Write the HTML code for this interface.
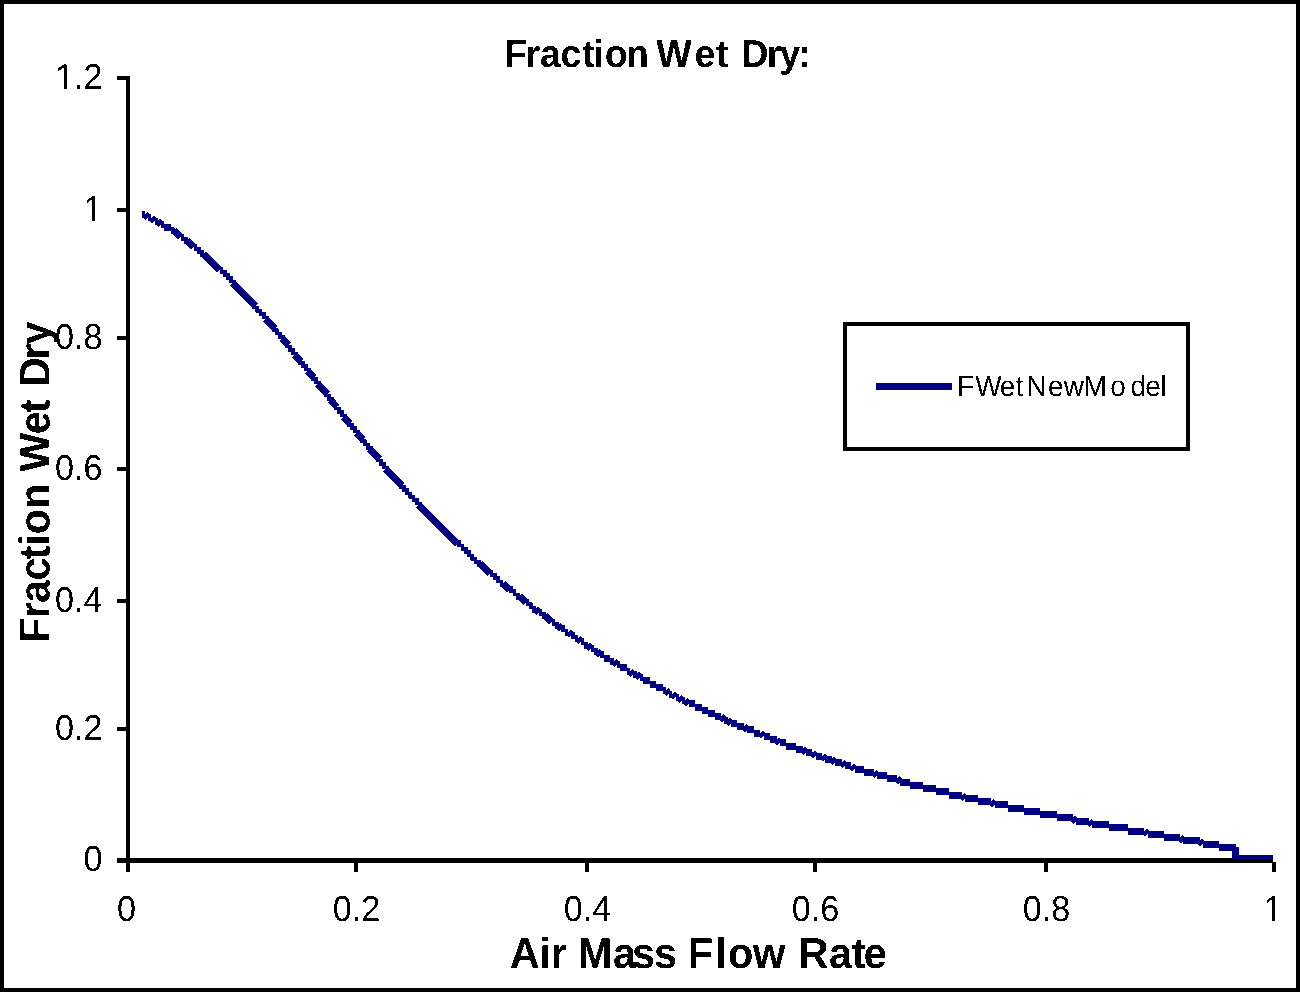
<!DOCTYPE html>
<html lang="en">
<head>
<meta charset="utf-8">
<title>Fraction Wet Dry</title>
<style>
html,body{margin:0;padding:0;background:#fff;}
body{width:1300px;height:992px;overflow:hidden;}
svg{display:block;}
text{font-family:"Liberation Sans",Arial,Helvetica,sans-serif;fill:#000;text-rendering:geometricPrecision;}
.b{font-weight:bold;}
.r{font-weight:normal;}
</style>
</head>
<body>
<svg width="1300" height="992" viewBox="0 0 1300 992">
<rect x="0" y="0" width="1300" height="992" fill="#fff"/>
<g fill="#000" shape-rendering="crispEdges">
<rect x="126" y="76" width="4" height="796"/>
<rect x="117" y="858" width="1156" height="5"/>
<rect x="117" y="76" width="9" height="4"/>
<rect x="117" y="208" width="9" height="4"/>
<rect x="117" y="336" width="9" height="4"/>
<rect x="117" y="467" width="9" height="4"/>
<rect x="117" y="599" width="9" height="4"/>
<rect x="117" y="727" width="9" height="4"/>
<rect x="354" y="863" width="4" height="9"/>
<rect x="585" y="863" width="4" height="9"/>
<rect x="813" y="863" width="4" height="9"/>
<rect x="1044" y="863" width="4" height="9"/>
<rect x="1272" y="862" width="4" height="10"/>
</g>
<clipPath id="pc"><rect x="130" y="60" width="1143" height="799"/></clipPath>
<path clip-path="url(#pc)" d="M141.5 214.5L144.9 214.5M144.9 214.5L148.2 217.8M148.2 217.8L151.4 217.8M151.4 217.8L154.7 221.0M154.7 221.0L157.9 221.0M157.9 221.0L161.2 224.3M161.2 224.3L164.4 224.3M164.4 224.3L164.4 227.6M164.4 227.6L171.0 227.6M171.0 227.6L171.0 230.8M171.0 230.8L174.2 230.8M174.2 230.8L180.7 237.3M180.7 237.3L184.0 237.3M184.0 237.3L184.0 240.6M184.0 240.6L187.2 240.6M187.2 240.6L193.7 247.1M193.7 247.1L197.0 247.1M197.0 247.1L197.0 250.4M197.0 250.4L200.3 250.4M200.3 250.4L200.3 253.6M200.3 253.6L203.5 253.6M203.5 253.6L219.8 270.0M219.8 270.0L223.0 270.0M223.0 270.0L223.0 273.2M223.0 273.2L226.3 273.2M226.3 273.2L226.3 276.5M226.3 276.5L229.6 276.5M229.6 276.5L229.6 279.7M229.6 279.7L232.8 279.7M232.8 279.7L232.8 283.0M232.8 283.0L255.6 305.8M255.6 305.8L255.6 309.1M255.6 309.1L258.9 309.1M258.9 309.1L258.9 312.4M258.9 312.4L262.1 312.4M262.1 312.4L262.1 315.6M262.1 315.6L265.4 315.6M265.4 315.6L265.4 318.9M265.4 318.9L275.1 328.7M275.1 328.7L275.1 331.9M275.1 331.9L278.4 331.9M278.4 331.9L278.4 335.2M278.4 335.2L281.6 335.2M281.6 335.2L281.6 338.5M281.6 338.5L288.2 345.0M288.2 345.0L288.2 348.2M288.2 348.2L291.4 348.2M291.4 348.2L291.4 351.5M291.4 351.5L294.7 351.5M294.7 351.5L294.7 354.8M294.7 354.8L301.2 361.3M301.2 361.3L301.2 364.5M301.2 364.5L304.4 364.5M304.4 364.5L304.4 367.8M304.4 367.8L307.7 367.8M307.7 367.8L307.7 371.1M307.7 371.1L314.2 377.6M314.2 377.6L314.2 380.9M314.2 380.9L317.5 380.9M317.5 380.9L317.5 384.1M317.5 384.1L327.2 393.9M327.2 393.9L327.2 397.2M327.2 397.2L330.5 397.2M330.5 397.2L330.5 400.4M330.5 400.4L337.0 407.0M337.0 407.0L337.0 410.2M337.0 410.2L340.2 410.2M340.2 410.2L340.2 413.5M340.2 413.5L343.5 413.5M343.5 413.5L343.5 416.7M343.5 416.7L350.0 423.3M350.0 423.3L350.0 426.5M350.0 426.5L353.3 426.5M353.3 426.5L353.3 429.8M353.3 429.8L356.5 429.8M356.5 429.8L356.5 433.0M356.5 433.0L363.0 439.6M363.0 439.6L363.0 442.8M363.0 442.8L366.3 442.8M366.3 442.8L366.3 446.1M366.3 446.1L369.5 446.1M369.5 446.1L369.5 449.4M369.5 449.4L379.3 459.1M379.3 459.1L379.3 462.4M379.3 462.4L382.6 462.4M382.6 462.4L382.6 465.7M382.6 465.7L385.8 465.7M385.8 465.7L385.8 468.9M385.8 468.9L402.1 485.2M402.1 485.2L402.1 488.5M402.1 488.5L405.4 488.5M405.4 488.5L405.4 491.8M405.4 491.8L408.6 491.8M408.6 491.8L408.6 495.0M408.6 495.0L411.9 495.0M411.9 495.0L411.9 498.3M411.9 498.3L415.1 498.3M415.1 498.3L415.1 501.5M415.1 501.5L418.4 501.5M418.4 501.5L418.4 504.8M418.4 504.8L457.4 543.9M457.4 543.9L460.7 543.9M460.7 543.9L460.7 547.2M460.7 547.2L464.0 547.2M464.0 547.2L464.0 550.5M464.0 550.5L467.2 550.5M467.2 550.5L467.2 553.7M467.2 553.7L470.5 553.7M470.5 553.7L470.5 557.0M470.5 557.0L473.7 557.0M473.7 557.0L473.7 560.3M473.7 560.3L477.0 560.3M477.0 560.3L477.0 563.5M477.0 563.5L480.2 563.5M480.2 563.5L490.0 573.3M490.0 573.3L493.3 573.3M493.3 573.3L493.3 576.6M493.3 576.6L496.5 576.6M496.5 576.6L496.5 579.8M496.5 579.8L499.8 579.8M499.8 579.8L499.8 583.1M499.8 583.1L503.0 583.1M503.0 583.1L509.5 589.6M509.5 589.6L512.8 589.6M512.8 589.6L512.8 592.9M512.8 592.9L516.0 592.9M516.0 592.9L516.0 596.1M516.0 596.1L519.3 596.1M519.3 596.1L525.8 602.7M525.8 602.7L529.1 602.7M529.1 602.7L529.1 605.9M529.1 605.9L532.3 605.9M532.3 605.9L532.3 609.2M532.3 609.2L535.6 609.2M535.6 609.2L538.8 612.4M538.8 612.4L542.1 612.4M542.1 612.4L542.1 615.7M542.1 615.7L545.3 615.7M545.3 615.7L551.8 622.2M551.8 622.2L555.1 622.2M555.1 622.2L555.1 625.5M555.1 625.5L558.4 625.5M558.4 625.5L561.6 628.8M561.6 628.8L564.9 628.8M564.9 628.8L564.9 632.0M564.9 632.0L568.1 632.0M568.1 632.0L571.4 635.3M571.4 635.3L574.6 635.3M574.6 635.3L574.6 638.5M574.6 638.5L577.9 638.5M577.9 638.5L581.1 641.8M581.1 641.8L584.4 641.8M584.4 641.8L584.4 645.1M584.4 645.1L587.7 645.1M587.7 645.1L590.9 648.3M590.9 648.3L594.2 648.3M594.2 648.3L594.2 651.6M594.2 651.6L597.4 651.6M597.4 651.6L600.7 654.8M600.7 654.8L603.9 654.8M603.9 654.8L603.9 658.1M603.9 658.1L610.4 658.1M610.4 658.1L610.4 661.4M610.4 661.4L613.7 661.4M613.7 661.4L617.0 664.6M617.0 664.6L620.2 664.6M620.2 664.6L620.2 667.9M620.2 667.9L626.7 667.9M626.7 667.9L626.7 671.2M626.7 671.2L630.0 671.2M630.0 671.2L633.2 674.4M633.2 674.4L636.5 674.4M636.5 674.4L639.7 677.7M639.7 677.7L643.0 677.7M643.0 677.7L643.0 680.9M643.0 680.9L649.5 680.9M649.5 680.9L649.5 684.2M649.5 684.2L656.0 684.2M656.0 684.2L656.0 687.5M656.0 687.5L662.5 687.5M662.5 687.5L662.5 690.7M662.5 690.7L665.8 690.7M665.8 690.7L669.0 694.0M669.0 694.0L672.3 694.0M672.3 694.0L675.6 697.3M675.6 697.3L678.8 697.3M678.8 697.3L682.1 700.5M682.1 700.5L685.3 700.5M685.3 700.5L688.6 703.8M688.6 703.8L695.1 703.8M695.1 703.8L695.1 707.0M695.1 707.0L701.6 707.0M701.6 707.0L701.6 710.3M701.6 710.3L708.1 710.3M708.1 710.3L708.1 713.6M708.1 713.6L714.6 713.6M714.6 713.6L714.6 716.8M714.6 716.8L721.1 716.8M721.1 716.8L724.4 720.1M724.4 720.1L727.6 720.1M727.6 720.1L730.9 723.3M730.9 723.3L737.4 723.3M737.4 723.3L737.4 726.6M737.4 726.6L743.9 726.6M743.9 726.6L747.2 729.9M747.2 729.9L753.7 729.9M753.7 729.9L753.7 733.1M753.7 733.1L760.2 733.1M760.2 733.1L763.5 736.4M763.5 736.4L770.0 736.4M770.0 736.4L770.0 739.7M770.0 739.7L776.5 739.7M776.5 739.7L779.7 742.9M779.7 742.9L786.2 742.9M786.2 742.9L786.2 746.2M786.2 746.2L796.0 746.2M796.0 746.2L796.0 749.4M796.0 749.4L802.5 749.4M802.5 749.4L805.8 752.7M805.8 752.7L812.3 752.7M812.3 752.7L815.5 756.0M815.5 756.0L822.1 756.0M822.1 756.0L825.3 759.2M825.3 759.2L831.8 759.2M831.8 759.2L835.1 762.5M835.1 762.5L841.6 762.5M841.6 762.5L844.8 765.7M844.8 765.7L851.4 765.7M851.4 765.7L854.6 769.0M854.6 769.0L864.4 769.0M864.4 769.0L864.4 772.3M864.4 772.3L874.1 772.3M874.1 772.3L877.4 775.5M877.4 775.5L887.2 775.5M887.2 775.5L887.2 778.8M887.2 778.8L896.9 778.8M896.9 778.8L900.2 782.1M900.2 782.1L910.0 782.1M910.0 782.1L910.0 785.3M910.0 785.3L923.0 785.3M923.0 785.3L923.0 788.6M923.0 788.6L936.0 788.6M936.0 788.6L936.0 791.8M936.0 791.8L949.0 791.8M949.0 791.8L949.0 795.1M949.0 795.1L962.0 795.1M962.0 795.1L965.3 798.4M965.3 798.4L978.3 798.4M978.3 798.4L978.3 801.6M978.3 801.6L991.3 801.6M991.3 801.6L994.6 804.9M994.6 804.9L1007.6 804.9M1007.6 804.9L1007.6 808.2M1007.6 808.2L1023.9 808.2M1023.9 808.2L1023.9 811.4M1023.9 811.4L1040.2 811.4M1040.2 811.4L1040.2 814.7M1040.2 814.7L1056.5 814.7M1056.5 814.7L1056.5 817.9M1056.5 817.9L1072.7 817.9M1072.7 817.9L1076.0 821.2M1076.0 821.2L1089.0 821.2M1089.0 821.2L1092.3 824.5M1092.3 824.5L1108.5 824.5M1108.5 824.5L1108.5 827.7M1108.5 827.7L1128.1 827.7M1128.1 827.7L1128.1 831.0M1128.1 831.0L1144.4 831.0M1144.4 831.0L1147.6 834.2M1147.6 834.2L1163.9 834.2M1163.9 834.2L1163.9 837.5M1163.9 837.5L1180.2 837.5M1180.2 837.5L1183.4 840.8M1183.4 840.8L1199.7 840.8M1199.7 840.8L1202.9 844.0M1202.9 844.0L1219.2 844.0M1219.2 844.0L1219.2 847.3M1219.2 847.3L1235.5 847.3M1235.5 847.3L1235.5 858.5M1235.5 858.5L1273.0 858.5" fill="none" stroke="#000080" stroke-width="7" stroke-linecap="butt" shape-rendering="crispEdges"/>
<rect x="845" y="324" width="343" height="125" fill="#fff" stroke="#000" stroke-width="4" shape-rendering="crispEdges"/>
<rect x="876" y="383" width="76" height="7" fill="#000080" shape-rendering="crispEdges"/>
<filter id="bw" x="0" y="0" width="1300" height="992" filterUnits="userSpaceOnUse" color-interpolation-filters="sRGB"><feComponentTransfer><feFuncA type="discrete" tableValues="0 1"/></feComponentTransfer></filter>
<g filter="url(#bw)">
<text transform="translate(957,396) scale(1,1.035)" dx="0 0 -2.5 -0.8 1.9 0.5 -0.8 -1.7 2.6 3.4 -1.8 -1.7" font-size="28" letter-spacing="1.05" class="r">FWetNewModel</text>
<text transform="translate(657.5,67) scale(1,1.04)" dx="0 -1.5 0.3 0 1.2 -1.2 1.2 -1.2 0 -2.5 3.7 0.7 0 3.5 -1.7 -1.3 -1.7" font-size="37.5" letter-spacing="-0.3" text-anchor="middle" class="b">Fraction Wet Dry:</text>
<text transform="translate(698.2,968) scale(1,1.04)" dx="0 0 0 0 0 0.9 -3.9 -0.7 0 -0.3 2.5 1.5 0 0 2.2 0.8 0 -1.5" font-size="41.5" letter-spacing="-0.3" text-anchor="middle" class="b">Air Mass Flow Rate</text>
<text transform="translate(49,482.5) rotate(-90) scale(1,1.04)" dx="0 0 0 0 -1.2 0.6 0.6 0.6 0 1.8 0 -1.2 0 1.8 -1.8 0" font-size="41.5" letter-spacing="-0.73" text-anchor="middle" class="b">Fraction Wet Dry</text>
<text transform="translate(102.4,89) scale(0.976,1.03)" font-size="35" text-anchor="end" class="r">1.2</text>
<text transform="translate(102.4,221) scale(0.976,1.03)" font-size="35" text-anchor="end" class="r">1</text>
<text transform="translate(102.4,349) scale(0.976,1.03)" font-size="35" text-anchor="end" class="r">0.8</text>
<text transform="translate(102.4,480) scale(0.976,1.03)" font-size="35" text-anchor="end" class="r">0.6</text>
<text transform="translate(102.4,612) scale(0.976,1.03)" font-size="35" text-anchor="end" class="r">0.4</text>
<text transform="translate(102.4,740) scale(0.976,1.03)" font-size="35" text-anchor="end" class="r">0.2</text>
<text transform="translate(102.4,871) scale(0.976,1.03)" font-size="35" text-anchor="end" class="r">0</text>
<text transform="translate(126.5,921) scale(0.976,1.03)" font-size="35" text-anchor="middle" class="r">0</text>
<text transform="translate(356.5,921) scale(0.976,1.03)" font-size="35" text-anchor="middle" class="r">0.2</text>
<text transform="translate(587.5,921) scale(0.976,1.03)" font-size="35" text-anchor="middle" class="r">0.4</text>
<text transform="translate(815.5,921) scale(0.976,1.03)" font-size="35" text-anchor="middle" class="r">0.6</text>
<text transform="translate(1046.5,921) scale(0.976,1.03)" font-size="35" text-anchor="middle" class="r">0.8</text>
<text transform="translate(1273,921) scale(0.976,1.03)" font-size="35" text-anchor="middle" class="r">1</text>
</g>
<g fill="#fff" shape-rendering="crispEdges">
<rect x="84" y="217" width="8" height="5"/>
<rect x="95" y="217" width="8" height="5"/>
<rect x="56" y="85" width="8" height="5"/>
<rect x="67" y="85" width="7" height="5"/>
<rect x="1264" y="917" width="8" height="5"/>
<rect x="1275" y="917" width="8" height="5"/>
</g>
<rect x="2" y="2" width="1296" height="988" fill="none" stroke="#000" stroke-width="4" shape-rendering="crispEdges"/>
</svg>
</body>
</html>
